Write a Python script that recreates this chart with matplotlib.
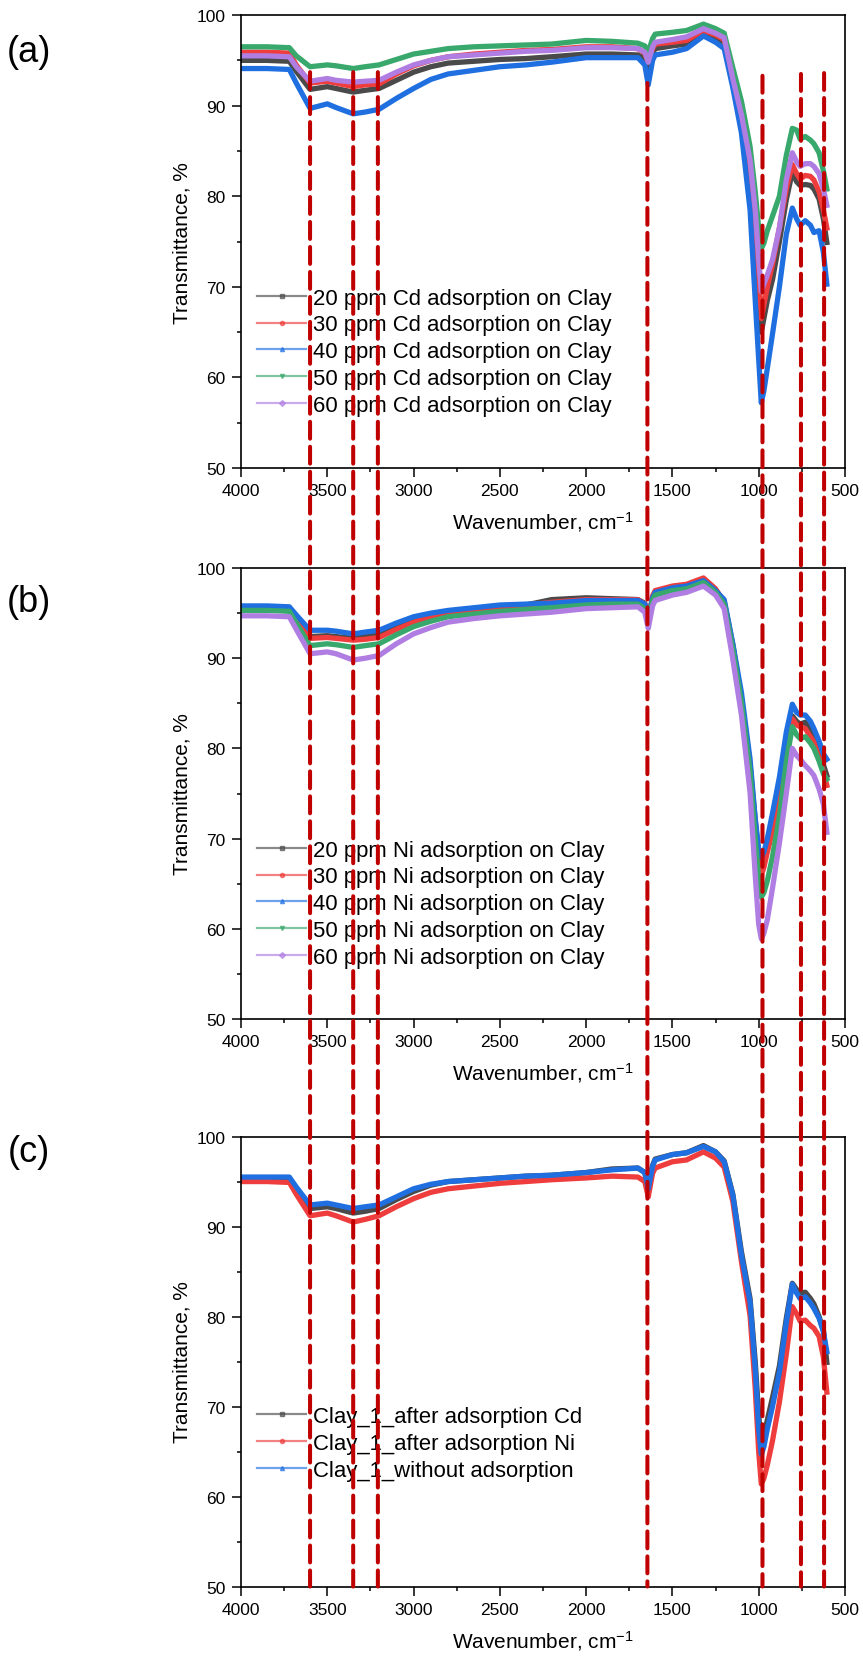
import numpy as np
import matplotlib
matplotlib.use('Agg')
import matplotlib.pyplot as plt
from matplotlib.lines import Line2D
from matplotlib.patches import ConnectionPatch

plt.rcParams['font.family'] = ['Liberation Sans', 'DejaVu Sans']
plt.rcParams['mathtext.fontset'] = 'custom'
plt.rcParams['mathtext.rm'] = 'Liberation Sans'
plt.rcParams['mathtext.it'] = 'Liberation Sans'

# wavenumber points (cm-1), same grid for every panel
wn = [4000, 3850, 3720, 3680, 3600, 3500, 3450, 3350, 3280, 3200, 3100, 3000, 2900, 2800,
      2650, 2500, 2350, 2200, 2000, 1850, 1700, 1660, 1640, 1615, 1600, 1500, 1418, 1320,
      1250, 1200, 1150, 1100, 1050, 1020, 1000, 985, 970, 950, 920, 880, 840, 805, 780,
      760, 730, 700, 680, 650, 625, 605]

# (a) Cd adsorption
cd20 = [95.0, 95.0, 94.9, 93.8, 91.8, 92.1, 91.9, 91.5, 91.7, 91.9, 92.8, 93.7, 94.3, 94.7,
        94.9, 95.1, 95.2, 95.4, 95.7, 95.7, 95.6, 95.2, 94.2, 95.8, 96.3, 96.6, 96.8, 98.0,
        97.4, 96.9, 92.8, 88.4, 82.5, 76.5, 70.5, 65.0, 66.5, 68.5, 70.8, 75.0, 79.6, 82.7,
        81.6, 81.2, 81.3, 81.2, 80.8, 79.7, 77.5, 74.9]
cd30 = [95.9, 95.9, 95.8, 94.5, 92.5, 92.7, 92.5, 92.1, 92.3, 92.4, 93.5, 94.4, 95.0, 95.4,
        95.7, 95.9, 96.1, 96.2, 96.5, 96.5, 96.3, 95.8, 94.8, 96.3, 96.8, 97.0, 97.2, 98.3,
        97.8, 97.3, 92.6, 88.5, 83.0, 77.0, 71.5, 66.5, 68.0, 70.0, 72.5, 76.5, 80.8, 83.5,
        82.5, 81.9, 82.3, 82.2, 81.8, 80.5, 78.5, 76.5]
cd40 = [94.1, 94.1, 94.0, 92.5, 89.7, 90.2, 89.8, 89.1, 89.3, 89.6, 90.8, 91.9, 92.9, 93.5,
        93.9, 94.3, 94.5, 94.8, 95.3, 95.3, 95.3, 94.5, 92.3, 95.0, 95.6, 95.9, 96.3, 97.7,
        97.0, 96.3, 92.0, 87.0, 78.5, 68.5, 62.0, 57.2, 58.5, 61.0, 64.8, 70.0, 75.8, 78.7,
        77.5, 76.8, 77.3, 76.8, 76.0, 76.2, 73.8, 70.3]
cd50 = [96.5, 96.5, 96.4, 95.5, 94.3, 94.5, 94.4, 94.1, 94.3, 94.5, 95.1, 95.7, 96.0, 96.3,
        96.5, 96.6, 96.7, 96.8, 97.2, 97.1, 96.9, 96.6, 95.9, 97.4, 97.9, 98.1, 98.3, 99.0,
        98.5, 98.0, 94.2, 90.5, 85.5, 80.5, 76.5, 74.2, 74.8, 76.2, 77.8, 80.0, 84.5, 87.5,
        87.3, 86.3, 86.6, 86.2, 85.8, 84.8, 82.8, 80.8]
cd60 = [95.5, 95.5, 95.4, 94.3, 92.7, 93.0, 92.8, 92.6, 92.7, 92.8, 93.7, 94.5, 95.0, 95.4,
        95.6, 95.8, 96.0, 96.1, 96.4, 96.4, 96.3, 95.9, 94.8, 96.5, 97.0, 97.3, 97.6, 98.5,
        98.0, 97.5, 93.0, 89.0, 84.0, 78.5, 73.0, 69.5, 70.3, 71.3, 73.0, 76.5, 81.8, 84.8,
        83.8, 83.3, 83.6, 83.6, 83.3, 82.5, 80.8, 79.0]

# (b) Ni adsorption
ni20 = [95.7, 95.7, 95.6, 94.5, 92.4, 92.5, 92.4, 92.2, 92.4, 92.6, 93.4, 94.2, 94.7, 95.1,
        95.4, 95.7, 95.9, 96.5, 96.7, 96.6, 96.5, 96.1, 94.4, 96.6, 97.3, 97.8, 98.0, 98.6,
        97.5, 96.3, 91.5, 85.6, 78.2, 72.0, 68.3, 67.0, 67.8, 69.0, 71.8, 75.8, 80.5, 83.6,
        83.0, 82.7, 82.9, 82.0, 81.2, 79.8, 78.2, 77.0]
ni30 = [95.5, 95.5, 95.4, 94.3, 92.2, 92.3, 92.2, 92.0, 92.1, 92.3, 93.2, 94.0, 94.6, 95.1,
        95.4, 95.6, 95.9, 96.2, 96.5, 96.5, 96.5, 96.0, 94.2, 96.9, 97.5, 98.0, 98.2, 98.9,
        97.7, 96.2, 91.3, 85.5, 77.8, 71.0, 67.2, 65.9, 66.8, 68.5, 70.8, 74.5, 79.5, 83.3,
        82.6, 82.4, 82.2, 81.3, 80.7, 79.0, 77.4, 75.9]
ni40 = [95.8, 95.8, 95.7, 94.8, 93.1, 93.1, 93.0, 92.7, 92.9, 93.1, 93.9, 94.6, 95.0, 95.3,
        95.6, 95.9, 96.0, 96.1, 96.4, 96.4, 96.4, 96.0, 94.4, 96.7, 97.3, 97.8, 98.0, 98.6,
        97.5, 96.5, 91.6, 86.2, 78.8, 72.2, 68.8, 67.9, 68.5, 70.0, 72.8, 76.8, 81.8, 84.9,
        84.0, 83.7, 83.7, 83.0, 82.2, 80.8, 79.4, 78.8]
ni50 = [95.3, 95.3, 95.2, 93.9, 91.4, 91.6, 91.5, 91.2, 91.4, 91.6, 92.6, 93.5, 94.1, 94.6,
        94.9, 95.2, 95.4, 95.6, 95.9, 96.0, 96.0, 95.5, 93.8, 96.4, 97.0, 97.5, 97.7, 98.4,
        97.3, 96.0, 91.0, 85.1, 77.4, 70.0, 65.5, 63.5, 64.0, 65.3, 68.0, 72.5, 78.5, 82.4,
        81.5, 81.1, 81.3, 80.6, 80.0, 78.6, 77.2, 76.6]
ni60 = [94.7, 94.7, 94.6, 93.2, 90.5, 90.7, 90.5, 89.8, 90.0, 90.3, 91.6, 92.7, 93.4, 94.0,
        94.4, 94.7, 94.9, 95.1, 95.5, 95.6, 95.7, 95.1, 93.3, 95.8, 96.4, 97.0, 97.3, 98.0,
        97.0, 95.5, 89.9, 83.7, 75.1, 65.9, 60.5, 58.9, 59.5, 61.0, 64.5, 69.5, 75.0, 80.0,
        79.2, 78.8, 78.1, 77.5, 77.0, 75.5, 73.8, 70.7]

# (c) clay after / without adsorption
clay_cd = [95.4, 95.4, 95.3, 94.2, 92.0, 92.2, 92.0, 91.5, 91.7, 92.0, 93.0, 93.9, 94.6, 95.0,
           95.2, 95.4, 95.6, 95.7, 96.0, 96.4, 96.5, 96.0, 94.2, 96.8, 97.5, 98.0, 98.2, 99.0,
           98.3, 97.3, 93.6, 87.2, 82.0, 75.0, 69.0, 66.2, 66.8, 68.5, 71.0, 74.5, 79.8, 83.7,
           83.0, 82.6, 82.7, 82.0, 81.4, 80.0, 78.5, 74.9]
clay_ni = [95.0, 95.0, 94.9, 93.6, 91.2, 91.5, 91.2, 90.5, 90.8, 91.2, 92.2, 93.1, 93.8, 94.2,
           94.5, 94.8, 95.0, 95.2, 95.4, 95.6, 95.5, 95.0, 93.3, 95.9, 96.5, 97.2, 97.4, 98.3,
           97.6, 96.6, 92.8, 86.1, 80.1, 72.0, 65.0, 61.4, 62.0, 63.5, 66.2, 70.5, 75.8, 81.1,
           80.3, 79.5, 79.6, 79.0, 78.7, 77.8, 75.5, 71.6]
clay_raw = [95.5, 95.5, 95.5, 94.4, 92.4, 92.6, 92.4, 92.0, 92.2, 92.4, 93.3, 94.2, 94.7, 95.0,
            95.2, 95.4, 95.6, 95.7, 96.0, 96.3, 96.5, 96.0, 94.2, 96.7, 97.4, 98.0, 98.2, 98.9,
            98.3, 97.2, 93.5, 86.8, 81.6, 74.2, 67.5, 64.7, 65.5, 67.5, 70.0, 73.8, 79.3, 83.6,
            82.6, 82.0, 82.2, 81.5, 80.9, 79.8, 78.3, 76.1]

# marked bands (cm-1) and where the dashed line starts in panel (a)
bands = [3600, 3350, 3207, 1645, 978, 755, 621]
band_top = [93.7, 93.7, 93.7, 92.5, 93.3, 93.5, 93.6]

labels_cd = ['20 ppm Cd adsorption on Clay', '30 ppm Cd adsorption on Clay',
             '40 ppm Cd adsorption on Clay', '50 ppm Cd adsorption on Clay',
             '60 ppm Cd adsorption on Clay']
labels_ni = ['20 ppm Ni adsorption on Clay', '30 ppm Ni adsorption on Clay',
             '40 ppm Ni adsorption on Clay', '50 ppm Ni adsorption on Clay',
             '60 ppm Ni adsorption on Clay']
labels_clay = ['Clay_1_after adsorption Cd', 'Clay_1_after adsorption Ni',
               'Clay_1_without adsorption']

colors = ['#4a4a4a', '#ef3d3d', '#1f6fe0', '#38a86c', '#b07ee2']
markers = ['s', 'o', '^', 'v', 'D']

fig = plt.figure(figsize=(8.63, 16.58), dpi=100)
ax_a = fig.add_axes([0.2793, 0.7171, 0.6998, 0.2732])
ax_b = fig.add_axes([0.2793, 0.3848, 0.6998, 0.2720])
ax_c = fig.add_axes([0.2793, 0.0425, 0.6998, 0.2714])


def draw_panel(ax, series, labels, leg_y):
    for i, ys in enumerate(series):
        ax.plot(wn, ys, color=colors[i], lw=3.8, solid_joinstyle='round')
    handles = [Line2D([], [], color=colors[i], lw=1.6, alpha=0.65, marker=markers[i],
                      ms=3, markerfacecolor=colors[i], markeredgecolor=colors[i])
               for i in range(len(series))]
    ax.legend(handles, labels, loc='center left', bbox_to_anchor=(0.026, leg_y),
              frameon=False, fontsize=15.9, handlelength=2.25, handletextpad=0.3,
              labelspacing=0.26, borderpad=0, borderaxespad=0)
    ax.set_xlim(4000, 500)
    ax.set_ylim(50, 100)
    ax.set_xticks(np.arange(4000, 499, -500))
    ax.set_xticks(np.arange(3750, 500, -500), minor=True)
    ax.set_yticks(np.arange(50, 101, 10))
    ax.set_yticks(np.arange(55, 100, 10), minor=True)
    ax.tick_params(which='both', direction='out', labelsize=12.5, width=1.1, pad=4.5,
                   top=False, right=False)
    ax.tick_params(which='major', length=6.5)
    ax.tick_params(which='minor', length=3.2)
    for s in ax.spines.values():
        s.set_linewidth(1.2)
    ax.set_xlabel(r'Wavenumber, cm$^{-1}$', fontsize=15, labelpad=8)
    ax.set_ylabel('Transmittance, %', fontsize=15, labelpad=4)


draw_panel(ax_a, [cd20, cd30, cd40, cd50, cd60], labels_cd, 0.257)
draw_panel(ax_b, [ni20, ni30, ni40, ni50, ni60], labels_ni, 0.256)
draw_panel(ax_c, [clay_cd, clay_ni, clay_raw], labels_clay, 0.318)

# panel letters
fig.text(0.033, 1 - 52 / 1658, '(a)', fontsize=26, ha='center', va='center')
fig.text(0.033, 1 - 603 / 1658, '(b)', fontsize=26, ha='center', va='center')
fig.text(0.033, 1 - 1153 / 1658, '(c)', fontsize=26, ha='center', va='center')

# dashed band markers running through all three panels
for b, yt in zip(bands, band_top):
    con = ConnectionPatch(xyA=(b, yt), coordsA=ax_a.transData,
                          xyB=(b, 50), coordsB=ax_c.transData,
                          color='#c00000', lw=2.9, linestyle=(0, (4.2, 2.0)))
    con.set_zorder(5)
    fig.add_artist(con)

plt.savefig('out.png', dpi=100)
